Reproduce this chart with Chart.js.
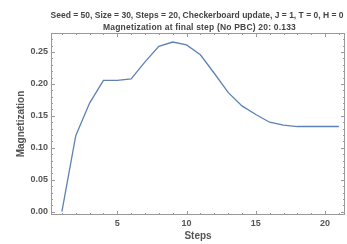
<!DOCTYPE html>
<html>
<head>
<meta charset="utf-8">
<script src="https://cdn.jsdelivr.net/npm/chart.js@4.4.0/dist/chart.umd.min.js"></script>
<style>
  html, body { margin: 0; padding: 0; background: #fff; }
  #wrap { width: 347px; height: 244px; }
</style>
</head>
<body>
<div id="wrap"><canvas id="chart"></canvas></div>
<script>
const steps = [1, 2, 3, 4, 5, 6, 7, 8, 9, 10, 11, 12, 13, 14, 15, 16, 17, 18, 19, 20, 21];
const magnetization = [0, 0.1189, 0.1700, 0.2056, 0.2056, 0.2078, 0.2344, 0.2589, 0.2656, 0.2611,
    0.2456, 0.2167, 0.1867, 0.1656, 0.1522, 0.1400, 0.1356, 0.1333, 0.1333, 0.1333, 0.1333];
const xTicks = [5, 10, 15, 20];
const yTicks = [0, 0.05, 0.10, 0.15, 0.20, 0.25];
const titleLines = [
    "Seed = 50, Size = 30, Steps = 20, Checkerboard update, J = 1, T = 0, H = 0",
    "Magnetization at final step (No PBC) 20: 0.133",
];

const frameColor = "#999";
const fontFamily = "'Liberation Sans', Arial, sans-serif";

// draw a title line spread out to the width it has in the reference
function wideText(ctx, text, cx, cy, width) {
    ctx.letterSpacing = "0px";
    const w0 = ctx.measureText(text).width;
    const spacing = Math.max(0, (width - w0) / text.length);
    ctx.letterSpacing = spacing.toFixed(2) + "px";
    ctx.fillText(text, cx, cy);
}

// mathematica style frame: box with ticks pointing inward on all sides,
// plus the two line title centred over the plot area
const framePlugin = {
    id: "frame",
    afterDatasetsDraw(chart) {
        const {ctx, chartArea: a, scales} = chart;
        ctx.save();
        ctx.strokeStyle = frameColor;
        ctx.lineWidth = 1;
        ctx.strokeRect(a.left + 0.5, a.top + 0.5, a.right - a.left - 1, a.bottom - a.top - 1);
        ctx.beginPath();
        for (let v = 1; v <= 21; v++) {
            const x = Math.round(scales.x.getPixelForValue(v)) + 0.5;
            const len = v % 5 === 0 ? 4 : 2;
            ctx.moveTo(x, a.bottom); ctx.lineTo(x, a.bottom - len);
            ctx.moveTo(x, a.top); ctx.lineTo(x, a.top + len);
        }
        for (let i = 0; i <= 27; i++) {
            const y = Math.round(scales.y.getPixelForValue(i / 100)) + 0.5;
            const len = i % 5 === 0 ? 4 : 2;
            ctx.moveTo(a.left, y); ctx.lineTo(a.left + len, y);
            ctx.moveTo(a.right, y); ctx.lineTo(a.right - len, y);
        }
        ctx.stroke();

        ctx.fillStyle = "#444";
        ctx.font = "bold 8.5px " + fontFamily;
        ctx.textAlign = "center";
        ctx.textBaseline = "middle";
        const cx = (a.left + a.right) / 2;
        wideText(ctx, titleLines[0], cx - 1, 15.5, 290);
        wideText(ctx, titleLines[1], cx + 1.5, 28, 193);
        ctx.restore();
    },
};

const tickFont = {family: fontFamily, size: 9, weight: "bold"};

new Chart(document.getElementById("chart"), {
    type: "line",
    data: {
        datasets: [{
            data: steps.map((s, i) => ({x: s, y: magnetization[i]})),
            borderColor: "#5E81B5",
            borderWidth: 1.3,
            pointRadius: 0,
            tension: 0,
            fill: false,
        }],
    },
    options: {
        responsive: true,
        maintainAspectRatio: false,
        animation: false,
        layout: {padding: {left: 15, right: 2, top: 33, bottom: 0}},
        plugins: {
            legend: {display: false},
            tooltip: {enabled: false},
            title: {display: false},
        },
        scales: {
            x: {
                type: "linear",
                min: 0.213,
                max: 21.44,
                afterBuildTicks: (s) => { s.ticks = xTicks.map(v => ({value: v})); },
                afterFit: (s) => { s.height = 29; },
                grid: {display: false, drawTicks: false, tickLength: 0},
                border: {display: false},
                ticks: {color: "#555", font: tickFont, padding: 3, maxRotation: 0},
                title: {display: true, text: "Steps", color: "#555", font: {...tickFont, size: 10}, padding: {top: 0, bottom: 2}},
            },
            y: {
                min: -0.0052,
                max: 0.2797,
                afterBuildTicks: (s) => { s.ticks = yTicks.map(v => ({value: v})); },
                afterFit: (s) => { s.width = 36; },
                grid: {display: false, drawTicks: false, tickLength: 0},
                border: {display: false},
                ticks: {color: "#555", font: tickFont, padding: 3, callback: (v) => v.toFixed(2)},
                title: {display: true, text: "Magnetization", color: "#555", font: {...tickFont, size: 10}, padding: {top: 0, bottom: 0}},
            },
        },
    },
    plugins: [framePlugin],
});
</script>
</body>
</html>
